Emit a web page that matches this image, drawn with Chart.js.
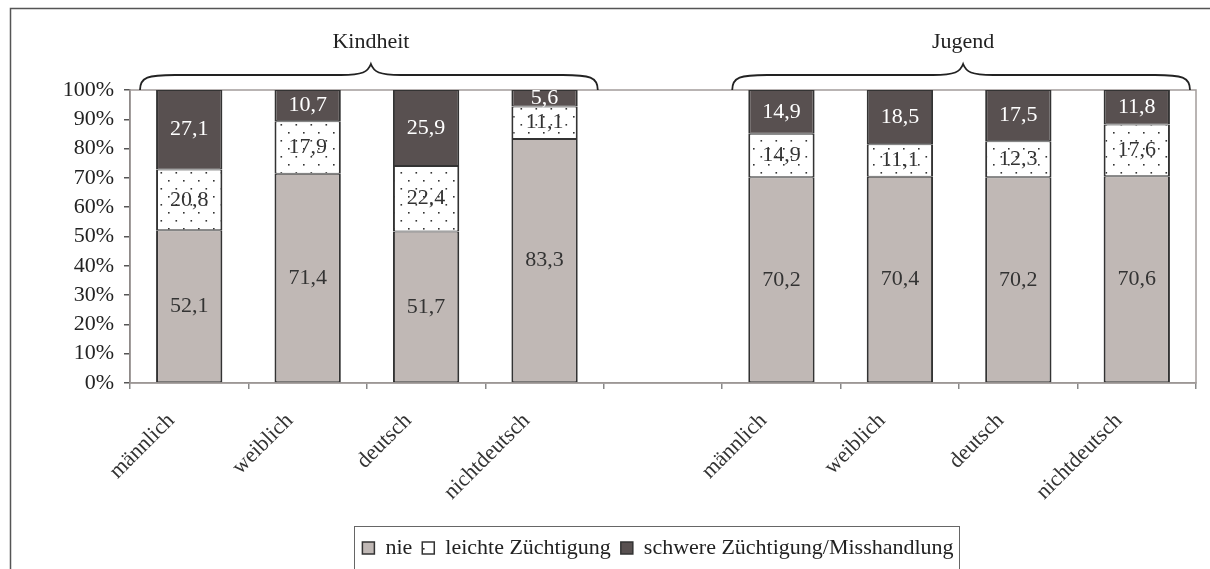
<!DOCTYPE html>
<html>
<head>
<meta charset="utf-8">
<script src="https://cdn.jsdelivr.net/npm/chart.js@4.4.1/dist/chart.umd.min.js"></script>
<style>
  html, body { margin: 0; padding: 0; background: #fff; }
  #wrap { width: 1210px; height: 569px; position: relative; }
</style>
</head>
<body>
<div id="wrap"><canvas id="chart" width="1210" height="569"></canvas></div>
<script>
// categories (empty slot = gap between the two groups)
const categories = ["männlich", "weiblich", "deutsch", "nichtdeutsch", "",
                    "männlich", "weiblich", "deutsch", "nichtdeutsch"];
const groups = ["Kindheit", "Jugend"];
const seriesNames = ["nie", "leichte Züchtigung", "schwere Züchtigung/Misshandlung"];

const nie     = [52.1, 71.4, 51.7, 83.3, null, 70.2, 70.4, 70.2, 70.6];
const leichte = [20.8, 17.9, 22.4, 11.1, null, 14.9, 11.1, 12.3, 17.6];
const schwere = [27.1, 10.7, 25.9,  5.6, null, 14.9, 18.5, 17.5, 11.8];

const yTicks = [0, 10, 20, 30, 40, 50, 60, 70, 80, 90, 100];

const SERIF = "'Liberation Serif', 'Times New Roman', serif";
const FS = 22;
const LEGEND_SHIFT = 60;

// dotted fill for "leichte Züchtigung"
function dotPattern() {
  const c = document.createElement("canvas");
  c.width = 15; c.height = 16;
  const g = c.getContext("2d");
  g.fillStyle = "#fff";
  g.fillRect(0, 0, 15, 16);
  g.fillStyle = "#333";
  g.fillRect(3, 4, 1.6, 1.6);
  g.fillRect(10.5, 12, 1.6, 1.6);
  return g.createPattern(c, "repeat");
}

const frame = {
  id: "frame",
  afterLayout(chart) {
    // legend sits right of centre in the original
    const lg = chart.legend;
    lg.left += LEGEND_SHIFT;
    lg.right += LEGEND_SHIFT;
    lg.adjustHitBoxes();
  },
  beforeDatasetsDraw(chart) {
    const { ctx, chartArea: a } = chart;
    ctx.save();
    ctx.strokeStyle = "#a39c9a";
    ctx.lineWidth = 1.5;
    ctx.strokeRect(a.left, a.top, a.right - a.left, a.bottom - a.top);
    ctx.restore();
  },
  afterDraw(chart) {
    const ctx = chart.ctx;
    ctx.save();
    // outer frame
    ctx.strokeStyle = "#555";
    ctx.lineWidth = 1.5;
    ctx.strokeRect(10.5, 8.5, 1300, 700);
    // legend frame
    const boxes = chart.legend.legendHitBoxes;
    if (boxes && boxes.length) {
      const l = Math.min(...boxes.map(b => b.left));
      const r = Math.max(...boxes.map(b => b.left + b.width));
      ctx.strokeStyle = "#666";
      ctx.lineWidth = 1;
      ctx.strokeRect(Math.round(l - 8) + 0.5, 526.5, Math.round(r - l + 14), 80);
    }
    ctx.restore();
  }
};

const valueLabels = {
  id: "valueLabels",
  afterDatasetsDraw(chart) {
    const ctx = chart.ctx;
    ctx.save();
    ctx.font = FS + "px " + SERIF;
    ctx.textAlign = "center";
    ctx.textBaseline = "middle";
    chart.data.datasets.forEach((ds, di) => {
      const meta = chart.getDatasetMeta(di);
      meta.data.forEach((el, i) => {
        const v = ds.data[i];
        if (v == null) return;
        ctx.fillStyle = di === 2 ? "#fff" : "#333";
        ctx.fillText(v.toFixed(1).replace(".", ","), el.x, (el.y + el.base) / 2);
      });
    });
    ctx.restore();
  }
};

const braces = {
  id: "braces",
  afterDraw(chart) {
    const { ctx, chartArea: a, scales: { x } } = chart;
    const half = (x.getPixelForValue(1) - x.getPixelForValue(0)) / 2;
    const spans = [[0, 3], [5, 8]];
    ctx.save();
    ctx.strokeStyle = "#222";
    ctx.lineWidth = 1.8;
    spans.forEach(([s, e], gi) => {
      const L = x.getPixelForValue(s) - half + 10;
      const R = x.getPixelForValue(e) + half - 6;
      const M = (L + R) / 2 + 2;
      const top = a.top;
      const fy = top - 15;
      ctx.beginPath();
      ctx.moveTo(L, top);
      ctx.bezierCurveTo(L, fy + 2, L + 8, fy, L + 35, fy);
      ctx.lineTo(M - 30, fy);
      ctx.bezierCurveTo(M - 8, fy, M - 3, fy - 3, M, fy - 11);
      ctx.bezierCurveTo(M + 3, fy - 3, M + 8, fy, M + 30, fy);
      ctx.lineTo(R - 35, fy);
      ctx.bezierCurveTo(R - 8, fy, R, fy + 2, R, top);
      ctx.stroke();
      ctx.fillStyle = "#222";
      ctx.font = FS + "px " + SERIF;
      ctx.textAlign = "center";
      ctx.textBaseline = "middle";
      ctx.fillText(groups[gi], M, 42);
    });
    ctx.restore();
  }
};

const barStyle = { borderColor: "#333",
                   borderWidth: { top: 1, bottom: 1, left: 2, right: 2 },
                   borderSkipped: false,
                   barPercentage: 0.56, categoryPercentage: 1 };

new Chart(document.getElementById("chart"), {
  type: "bar",
  data: {
    labels: categories,
    datasets: [
      { label: seriesNames[0], data: nie, backgroundColor: "#c0b8b5", ...barStyle },
      { label: seriesNames[1], data: leichte, backgroundColor: dotPattern(), ...barStyle },
      { label: seriesNames[2], data: schwere, backgroundColor: "#585050", ...barStyle }
    ]
  },
  options: {
    responsive: false,
    animation: false,
    events: [],
    layout: { padding: { top: 90, right: 14, left: 0, bottom: 0 } },
    plugins: {
      legend: {
        position: "bottom",
        labels: {
          boxWidth: 12, boxHeight: 12, padding: 10,
          color: "#222",
          font: { family: SERIF, size: FS }
        }
      },
      tooltip: { enabled: false },
      title: { display: false }
    },
    scales: {
      x: {
        stacked: true,
        grid: { offset: true, drawOnChartArea: false, drawTicks: true, tickLength: 6, color: "#888", lineWidth: 1.5 },
        border: { color: "#888", width: 1.5 },
        ticks: {
          autoSkip: false, maxRotation: 45, minRotation: 45,
          padding: 19, labelOffset: -18,
          color: "#333", font: { family: SERIF, size: FS }
        },
        afterFit(s) { s.height = 144; }
      },
      y: {
        stacked: true,
        min: 0, max: 100,
        afterBuildTicks(s) { s.ticks = yTicks.map(v => ({ value: v })); },
        grid: { drawOnChartArea: false, drawTicks: true, tickLength: 6, color: "#555", lineWidth: 1.5 },
        border: { color: "#555", width: 1.5 },
        ticks: {
          autoSkip: false,
          padding: 10, color: "#222", font: { family: SERIF, size: FS },
          callback: v => v + "%"
        },
        afterFit(s) { s.width = 130; }
      }
    }
  },
  plugins: [frame, valueLabels, braces]
});
</script>
</body>
</html>
